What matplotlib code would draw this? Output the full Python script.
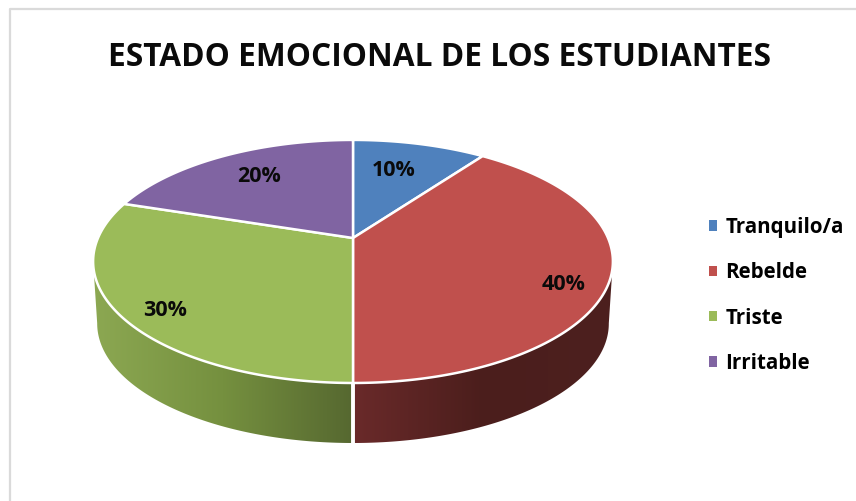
import matplotlib
matplotlib.use("Agg")
import matplotlib.pyplot as plt
from matplotlib.colors import LinearSegmentedColormap
from matplotlib.lines import Line2D
from matplotlib.patches import Patch, Polygon
import numpy as np

categories = ["Tranquilo/a", "Rebelde", "Triste", "Irritable"]
values = [10, 40, 30, 20]
title = "ESTADO EMOCIONAL DE LOS ESTUDIANTES"

colors = ["#4F81BD", "#C0504D", "#9BBB59", "#8064A2"]
wall_colors = [None, ["#6A2A2A", "#4B1E1C", "#4D201F"], ["#8CA852", "#75903F", "#566830"], None]
label_pos = [(394, 171), (564, 285), (165, 311), (259, 176)]

plt.rcParams["font.family"] = ["Open Sans", "DejaVu Sans"]
plt.rcParams["font.weight"] = "bold"


def project(theta, depth=False):
    """Angle in degrees, clockwise from the top, to pixel position of the rim"""
    x = np.sin(np.radians(theta))
    y = np.cos(np.radians(theta))
    w = 1 + 0.193 * y
    if depth:
        return 353 + 251 * x / w, 300.5 - 115 * y / w
    return 353 + 255 * x / w, 238 - 117 * y / w


fig = plt.figure(figsize=(8.56, 5.01), dpi=100)
ax = fig.add_axes([0, 0, 1, 1])

# Marco del grafico
ax.add_line(Line2D([10, 10, 856], [501, 9, 9], color="#DADADA", lw=1.6))

edges = np.cumsum([0] + values) / sum(values) * 360

# Pared lateral
for i in range(len(values)):
    start = max(edges[i], 101)
    end = min(edges[i + 1], 259)
    if start >= end or wall_colors[i] is None:
        continue
    angles = np.linspace(start, end, 120)
    tx, ty = project(angles)
    bx, by = project(angles, depth=True)
    outline = np.column_stack([np.r_[tx, bx[::-1]], np.r_[ty, by[::-1]]])
    clip = Polygon(outline, closed=True, transform=ax.transData, fc="none", ec="none")
    ax.add_patch(clip)
    cmap = LinearSegmentedColormap.from_list("wall", wall_colors[i])
    im = ax.imshow(
        np.linspace(0, 1, 256).reshape(1, -1), cmap=cmap, aspect="auto",
        extent=(outline[:, 0].min(), outline[:, 0].max(), outline[:, 1].max(), outline[:, 1].min()),
    )
    im.set_clip_path(clip)

# Separacion blanca en la pared
for edge in edges:
    if 101 < edge < 259:
        tx, ty = project(edge)
        bx, by = project(edge, depth=True)
        ax.plot([tx, bx], [ty, by], color="white", lw=2.8, solid_capstyle="butt")

# Cara superior
for i in range(len(values)):
    angles = np.linspace(edges[i], edges[i + 1], 200)
    tx, ty = project(angles)
    points = np.column_stack([np.r_[353, tx], np.r_[238, ty]])
    ax.add_patch(Polygon(points, closed=True, fc=colors[i], ec="white", lw=1.8, joinstyle="round"))
    ax.text(*label_pos[i], f"{values[i]}%", ha="center", va="center", fontsize=15.5, color="#0A0A0A")

ax.text(439.5, 57, title, ha="center", va="center", fontsize=22.8, color="#0A0A0A")

handles = [Patch(fc=c, ec="none") for c in colors]
ax.legend(
    handles, categories, loc="upper left", bbox_to_anchor=(709 / 856, 1 - 217 / 501),
    frameon=False, fontsize=14.8, handlelength=0.4, handleheight=0.4, handletextpad=0.39,
    labelspacing=1.18, borderpad=0, borderaxespad=0,
)

ax.set_xlim(0, 856)
ax.set_ylim(501, 0)
ax.axis("off")
fig.savefig("out.png", dpi=100)
